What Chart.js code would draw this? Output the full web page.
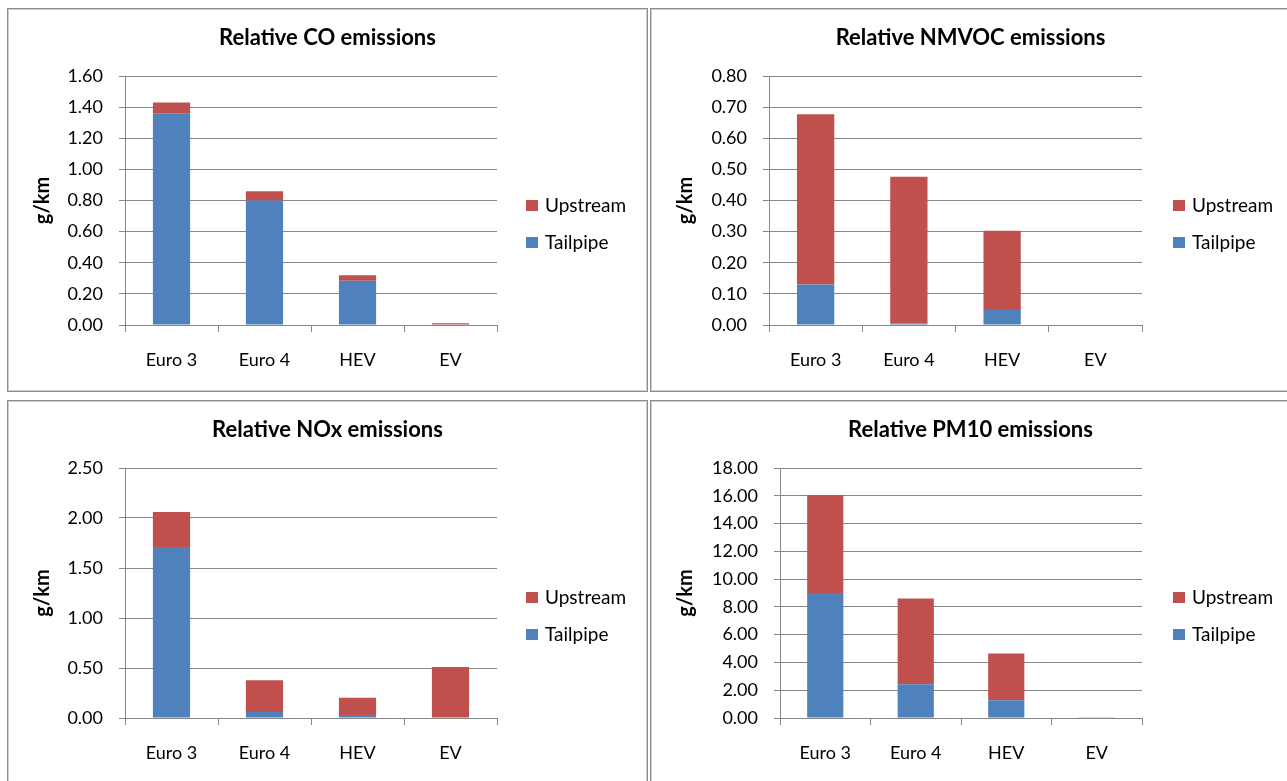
<!DOCTYPE html>
<html>
<head>
<meta charset="utf-8">
<title>Relative emissions</title>
<script src="https://cdn.jsdelivr.net/npm/chart.js@4.4.1/dist/chart.umd.min.js"></script>
<style>
  html, body { margin: 0; padding: 0; background: #fff; overflow: hidden; }
  body { width: 1287px; height: 781px; position: relative; font-family: Lato, "Open Sans", sans-serif; }
  .panel {
    position: absolute; width: 641px; height: 384px;
    box-shadow: inset 0 0 0 1px #8e8e8e, inset 0 0 0 2px #cdcdcd;
  }
  .panel canvas { position: absolute; left: 0; top: 0; }
  .key { position: absolute; font-size: 19px; line-height: 22px; color: #000; white-space: nowrap; }
  .swatch { position: absolute; width: 12px; height: 11px; }
</style>
</head>
<body>

<div class="panel" id="p-co"  style="left:7px;  top:8px;"><canvas id="c-co" width="641" height="384"></canvas></div>
<div class="panel" id="p-voc" style="left:650px;top:8px;"><canvas id="c-voc" width="641" height="384"></canvas></div>
<div class="panel" id="p-nox" style="left:7px;  top:400px;"><canvas id="c-nox" width="641" height="384"></canvas></div>
<div class="panel" id="p-pm"  style="left:650px;top:400px;"><canvas id="c-pm" width="641" height="384"></canvas></div>

<script>
const categories = ["Euro 3", "Euro 4", "HEV", "EV"];

// g/km per vehicle type, tailpipe at the bottom of each stack, upstream on top
const coTailpipe = [1.36, 0.80, 0.285, 0];
const coUpstream = [0.07, 0.06, 0.035, 0.012];
const coTicks = [0, 0.2, 0.4, 0.6, 0.8, 1.0, 1.2, 1.4, 1.6];

const vocTailpipe = [0.13, 0.005, 0.048, 0];
const vocUpstream = [0.547, 0.471, 0.255, 0];
const vocTicks = [0, 0.1, 0.2, 0.3, 0.4, 0.5, 0.6, 0.7, 0.8];

const noxTailpipe = [1.71, 0.06, 0.03, 0];
const noxUpstream = [0.35, 0.317, 0.173, 0.51];
const noxTicks = [0, 0.5, 1.0, 1.5, 2.0, 2.5];

const pmTailpipe = [9.0, 2.43, 1.28, 0];
const pmUpstream = [7.05, 6.18, 3.36, 0.06];
const pmTicks = [0, 2, 4, 6, 8, 10, 12, 14, 16, 18];

const BLUE = "#4F81BD";
const RED = "#C0504D";
const GRID = "#878787";
const FONT = 'Lato, "Open Sans", sans-serif';

function addLegend(panel, x) {
    const items = [["Upstream", RED, 197], ["Tailpipe", BLUE, 234]];
    items.forEach(([label, color, cy]) => {
        const sw = document.createElement("div");
        sw.className = "swatch";
        sw.style.cssText = `left:${x}px; top:${cy - 5.5}px; background:${color};`;
        panel.appendChild(sw);
        const txt = document.createElement("div");
        txt.className = "key";
        txt.textContent = label;
        txt.style.cssText = `left:${x + 19}px; top:${cy - 11}px;`;
        panel.appendChild(txt);
    });
}

function drawPanel(id, title, tail, up, ticks, box) {
    const canvas = document.getElementById("c-" + id);
    const H = canvas.height, W = canvas.width;
    new Chart(canvas.getContext("2d"), {
        type: "bar",
        data: {
            labels: categories,
            datasets: [
                { label: "Tailpipe", data: tail, backgroundColor: BLUE, borderWidth: 0 },
                { label: "Upstream", data: up, backgroundColor: RED, borderWidth: 0 }
            ]
        },
        options: {
            responsive: false,
            animation: false,
            events: [],
            layout: { padding: 0 },
            datasets: { bar: { barPercentage: 0.4, categoryPercentage: 1.0 } },
            plugins: {
                legend: { display: false },
                tooltip: { enabled: false },
                title: {
                    display: true,
                    text: title,
                    color: "#000",
                    font: { family: FONT, size: 22, weight: "bold" },
                    padding: { top: 17, bottom: box.top - 17 - 26.4 }
                }
            },
            scales: {
                x: {
                    stacked: true,
                    grid: { drawOnChartArea: false, color: GRID, tickLength: 7 },
                    border: { color: GRID },
                    ticks: { color: "#000", padding: 17, font: { family: FONT, size: 18 } },
                    afterFit: s => { s.height = H - box.bottom; }
                },
                y: {
                    stacked: true,
                    min: ticks[0],
                    max: ticks[ticks.length - 1],
                    afterBuildTicks: s => { s.ticks = ticks.map(v => ({ value: v })); },
                    grid: { color: GRID, tickLength: 6 },
                    border: { color: GRID },
                    ticks: {
                        color: "#000", padding: 16,
                        font: { family: FONT, size: 18 },
                        callback: v => Number(v).toFixed(2)
                    },
                    title: {
                        display: true, text: "g/km", color: "#000",
                        font: { family: FONT, size: 20, weight: "bold" },
                        padding: { top: 24, bottom: 0 }
                    },
                    afterFit: s => { s.width = box.left; }
                },
                // empty right-hand axis that keeps room for the key
                side: {
                    type: "linear",
                    position: "right",
                    grid: { display: false },
                    border: { display: false },
                    ticks: { display: false },
                    afterFit: s => { s.width = W - box.right; }
                }
            }
        }
    });
    addLegend(document.getElementById("p-" + id), box.key);
}

drawPanel("co", "Relative CO emissions", coTailpipe, coUpstream, coTicks,
    { left: 118, right: 490, top: 68, bottom: 317, key: 519 });
drawPanel("voc", "Relative NMVOC emissions", vocTailpipe, vocUpstream, vocTicks,
    { left: 119, right: 492, top: 68, bottom: 317, key: 523 });
drawPanel("nox", "Relative NOx emissions", noxTailpipe, noxUpstream, noxTicks,
    { left: 118, right: 490, top: 68, bottom: 318, key: 519 });
drawPanel("pm", "Relative PM10 emissions", pmTailpipe, pmUpstream, pmTicks,
    { left: 130, right: 492, top: 68, bottom: 318, key: 523 });
</script>
</body>
</html>
